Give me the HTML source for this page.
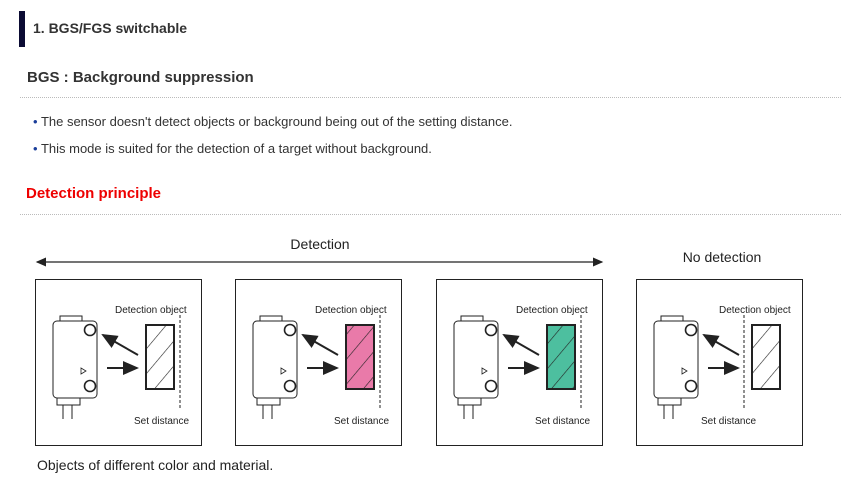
<!DOCTYPE html>
<html><head><meta charset="utf-8"><style>
body{margin:0;width:841px;height:483px;background:#fff;font-family:"Liberation Sans",sans-serif;overflow:hidden;position:relative}
.a{position:absolute;white-space:nowrap}
</style></head><body>
<div class="a" style="left:19px;top:11px;width:6px;height:36px;background:#0b0b33"></div>
<div class="a" style="left:33px;top:20px;font-size:14px;font-weight:bold;color:#333">1. BGS/FGS switchable</div>
<div class="a" style="left:27px;top:69px;font-size:15px;font-weight:bold;color:#333">BGS : Background suppression</div>
<div class="a" style="left:20px;top:97px;width:821px;border-top:1px dotted #bbb"></div>
<div class="a" style="left:33px;top:114px;font-size:13px;color:#333"><span style="color:#1a3e9a">•</span> The sensor doesn't detect objects or background being out of the setting distance.</div>
<div class="a" style="left:33px;top:141px;font-size:13px;color:#333"><span style="color:#1a3e9a">•</span> This mode is suited for the detection of a target without background.</div>
<div class="a" style="left:26px;top:185px;font-size:15px;font-weight:bold;color:#e00">Detection principle</div>
<div class="a" style="left:20px;top:214px;width:821px;border-top:1px dotted #bbb"></div>
<svg class="a" style="left:0;top:0" width="841" height="483">
<defs>
<pattern id="h" width="16" height="16" patternUnits="userSpaceOnUse" patternTransform="rotate(-50)"><line x1="0" y1="0" x2="16" y2="0" stroke="#222" stroke-width="1.2"/></pattern>
<marker id="m" markerWidth="8" markerHeight="8" refX="7" refY="4" orient="auto"><path d="M0,0.5 L8,4 L0,7.5z" fill="#222"/></marker>
<marker id="m2" markerWidth="8" markerHeight="8" refX="1" refY="4" orient="auto"><path d="M8,0.5 L0,4 L8,7.5z" fill="#222"/></marker>
<g id="b">
<rect x="0.5" y="0.5" width="166" height="166" fill="none" stroke="#222"/>
<rect x="25" y="37" width="22" height="5" fill="none" stroke="#222"/>
<rect x="18" y="42" width="44" height="77" rx="4" fill="#fff" stroke="#222"/>
<circle cx="55" cy="51" r="5.5" fill="none" stroke="#222" stroke-width="1.6"/>
<circle cx="55" cy="107" r="5.5" fill="none" stroke="#222" stroke-width="1.6"/>
<path d="M46,89 l5,3 l-5,3z" fill="none" stroke="#222" stroke-width="0.8"/>
<rect x="22" y="119" width="23" height="7" fill="none" stroke="#222"/>
<line x1="28" y1="126" x2="28" y2="140" stroke="#222"/><line x1="37" y1="126" x2="37" y2="140" stroke="#222"/>
<line x1="72" y1="89" x2="102" y2="89" stroke="#222" stroke-width="2" marker-end="url(#m)"/>
<line x1="103" y1="76" x2="68" y2="56" stroke="#222" stroke-width="2" marker-end="url(#m)"/>
</g>
<g id="s">
<use href="#b"/>
<line x1="145" y1="36" x2="145" y2="131" stroke="#222" stroke-dasharray="3,2"/>
<text x="80" y="34" font-size="10" fill="#222">Detection object</text>
<text x="99" y="145" font-size="10" fill="#222">Set distance</text>
</g>
</defs>
<text x="320" y="249" font-size="14" fill="#222" text-anchor="middle">Detection</text>
<line x1="37" y1="262" x2="602" y2="262" stroke="#222" stroke-width="1.3" marker-start="url(#m2)" marker-end="url(#m)"/>
<text x="722" y="262" font-size="14" fill="#222" text-anchor="middle">No detection</text>
<use href="#s" x="35" y="279"/>
<use href="#s" x="235" y="279"/>
<use href="#s" x="436" y="279"/>
<use href="#b" x="636" y="279"/>
<line x1="744" y1="315" x2="744" y2="410" stroke="#222" stroke-dasharray="3,2"/>
<text x="719" y="313" font-size="10" fill="#222">Detection object</text>
<text x="701" y="424" font-size="10" fill="#222">Set distance</text>
<rect x="146" y="325" width="28" height="64" fill="url(#h)" stroke="#222" stroke-width="2"/>
<rect x="346" y="325" width="28" height="64" fill="#e97aa9" stroke="#222" stroke-width="2"/>
<rect x="346" y="325" width="28" height="64" fill="url(#h)"/>
<rect x="547" y="325" width="28" height="64" fill="#4dbf9f" stroke="#222" stroke-width="2"/>
<rect x="547" y="325" width="28" height="64" fill="url(#h)"/>
<rect x="752" y="325" width="28" height="64" fill="url(#h)" stroke="#222" stroke-width="2"/>
</svg>
<div class="a" style="left:37px;top:457px;font-size:14px;color:#222">Objects of different color and material.</div>
</body></html>
